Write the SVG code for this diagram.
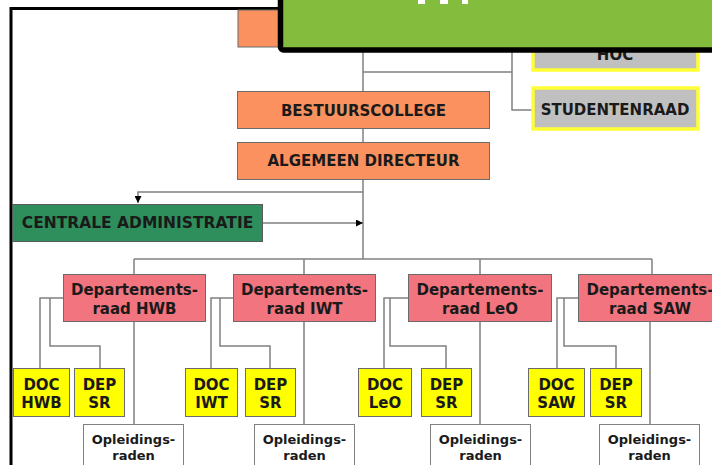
<svg xmlns="http://www.w3.org/2000/svg" width="712" height="465" viewBox="0 0 712 465">
<defs>
<style>
.t{font-family:"DejaVu Sans","Liberation Sans",sans-serif;font-weight:bold;font-size:15px;fill:#1a1a1a;text-anchor:middle}
.s{font-size:13px}
.ln{fill:none;stroke:#808080;stroke-width:1.5}
.or{fill:#FA915E;stroke:#6b6b6b;stroke-width:1}
.pk{fill:#F2747E;stroke:#6b6b6b;stroke-width:1}
.ye{fill:#FFFF00;stroke:#6b6b6b;stroke-width:1}
.wh{fill:#FFFFFF;stroke:#808080;stroke-width:1}
.gr{fill:#C0C0C0;stroke:#FFFF33;stroke-width:3.5}
.ca{fill:#2E8E5C;stroke:#5a5a5a;stroke-width:1}
</style>
<marker id="ah" viewBox="0 0 10 10" refX="10" refY="5" markerWidth="7" markerHeight="7" orient="auto" markerUnits="userSpaceOnUse">
<path d="M0,0 L10,5 L0,10 z" fill="#000"/>
</marker>
</defs>
<rect x="0" y="0" width="712" height="465" fill="#FFFFFF"/>
<rect x="11" y="8.5" width="720" height="470" fill="none" stroke="#000" stroke-width="3"/>

<g id="connectors">
<path class="ln" d="M363,47 V259"/>
<path class="ln" d="M363,72 H512"/>
<path class="ln" d="M512,47 V110 H532"/>
<path class="ln" d="M363,192 H138 V203" marker-end="url(#ah)"/>
<path class="ln" d="M263,223 H363" marker-end="url(#ah)"/>
<path class="ln" d="M134,259 H652"/>
<path class="ln" d="M134,259 V274 M304,259 V274 M480,259 V274 M652,259 V274"/>
<path class="ln" d="M134,322 V424 M304,322 V424 M480,322 V424 M650,322 V424"/>
<path class="ln" d="M63,298 H40 V368 M50,298 V346 H100 V368"/>
<path class="ln" d="M233,298 H211 V368 M220,298 V346 H270 V368"/>
<path class="ln" d="M408,298 H384 V368 M390,298 V346 H446 V368"/>
<path class="ln" d="M578,298 H557 V368 M564,298 V346 H616 V368"/>
</g>

<g id="top-box"><rect class="or" x="238" y="10" width="252" height="37"/></g>
<g id="hoc"><rect class="gr" x="533" y="25" width="165" height="45"/><text class="t" x="615" y="60">HOC</text></g>
<g id="studentenraad"><rect class="gr" x="533" y="88" width="165" height="41"/><text class="t" x="615" y="115">STUDENTENRAAD</text></g>
<g id="bestuurscollege"><rect class="or" x="237.5" y="91.5" width="252" height="37"/><text class="t" x="363.5" y="116">BESTUURSCOLLEGE</text></g>
<g id="algemeen-directeur"><rect class="or" x="237.5" y="142.5" width="252" height="37"/><text class="t" x="363.5" y="166">ALGEMEEN DIRECTEUR</text></g>
<g id="centrale-administratie"><rect class="ca" x="12.5" y="204.5" width="250" height="37"/><text class="t" x="137.5" y="228" style="font-size:15.5px">CENTRALE ADMINISTRATIE</text></g>

<g id="dep-hwb"><rect class="pk" x="63.5" y="274.5" width="142" height="47"/><text class="t" x="134.5" y="295">Departements-</text><text class="t" x="134.5" y="314">raad HWB</text></g>
<g id="dep-iwt"><rect class="pk" x="233.5" y="274.5" width="142" height="47"/><text class="t" x="304.5" y="295">Departements-</text><text class="t" x="304.5" y="314">raad IWT</text></g>
<g id="dep-leo"><rect class="pk" x="408.5" y="274.5" width="143" height="47"/><text class="t" x="480" y="295">Departements-</text><text class="t" x="480" y="314">raad LeO</text></g>
<g id="dep-saw"><rect class="pk" x="578.5" y="274.5" width="143" height="47"/><text class="t" x="650" y="295">Departements-</text><text class="t" x="650" y="314">raad SAW</text></g>

<g id="doc-hwb"><rect class="ye" x="13.5" y="368.5" width="56" height="48"/><text class="t" x="41.5" y="390">DOC</text><text class="t" x="41.5" y="408">HWB</text></g>
<g id="dep-sr-hwb"><rect class="ye" x="74.5" y="368.5" width="50" height="48"/><text class="t" x="99.5" y="390">DEP</text><text class="t" x="99.5" y="408">SR</text></g>
<g id="doc-iwt"><rect class="ye" x="185.5" y="368.5" width="52" height="48"/><text class="t" x="211.5" y="390">DOC</text><text class="t" x="211.5" y="408">IWT</text></g>
<g id="dep-sr-iwt"><rect class="ye" x="245.5" y="368.5" width="50" height="48"/><text class="t" x="270.5" y="390">DEP</text><text class="t" x="270.5" y="408">SR</text></g>
<g id="doc-leo"><rect class="ye" x="358.5" y="368.5" width="53" height="48"/><text class="t" x="385" y="390">DOC</text><text class="t" x="385" y="408">LeO</text></g>
<g id="dep-sr-leo"><rect class="ye" x="421.5" y="368.5" width="50" height="48"/><text class="t" x="446.5" y="390">DEP</text><text class="t" x="446.5" y="408">SR</text></g>
<g id="doc-saw"><rect class="ye" x="528.5" y="368.5" width="56" height="48"/><text class="t" x="556.5" y="390">DOC</text><text class="t" x="556.5" y="408">SAW</text></g>
<g id="dep-sr-saw"><rect class="ye" x="590.5" y="368.5" width="51" height="48"/><text class="t" x="616" y="390">DEP</text><text class="t" x="616" y="408">SR</text></g>

<g id="opl-hwb"><rect class="wh" x="83.5" y="424.5" width="100" height="50"/><text class="t s" x="133.5" y="444">Opleidings-</text><text class="t s" x="133.5" y="460">raden</text></g>
<g id="opl-iwt"><rect class="wh" x="254.5" y="424.5" width="100" height="50"/><text class="t s" x="304.5" y="444">Opleidings-</text><text class="t s" x="304.5" y="460">raden</text></g>
<g id="opl-leo"><rect class="wh" x="430.5" y="424.5" width="100" height="50"/><text class="t s" x="480.5" y="444">Opleidings-</text><text class="t s" x="480.5" y="460">raden</text></g>
<g id="opl-saw"><rect class="wh" x="599.5" y="424.5" width="100" height="50"/><text class="t s" x="649.5" y="444">Opleidings-</text><text class="t s" x="649.5" y="460">raden</text></g>

<g id="title-banner">
<rect x="280.5" y="-20" width="440" height="70" rx="3" fill="#84BC3E" stroke="#000" stroke-width="5.5"/>
<rect x="418" y="0" width="7" height="4" fill="#FFFFFF"/>
<rect x="440" y="0" width="8" height="4" fill="#FFFFFF"/>
<rect x="462" y="0" width="6" height="4" fill="#FFFFFF"/>
</g>
</svg>
